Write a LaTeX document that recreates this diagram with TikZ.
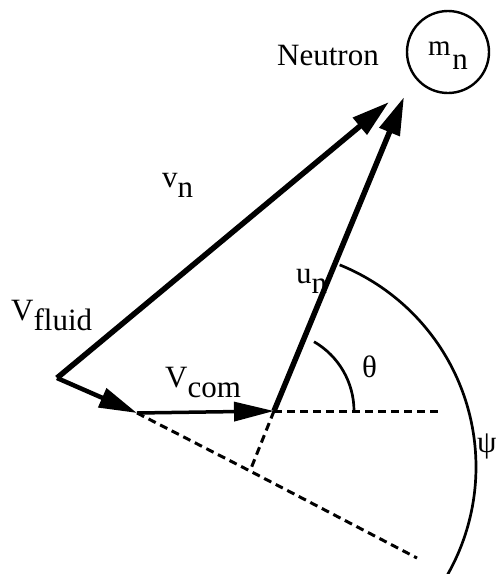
\documentclass[tikz,border=0pt]{standalone}
\usepackage{fontspec}
\setmainfont{Liberation Serif}
\usetikzlibrary{arrows.meta}
\begin{document}
\begin{tikzpicture}[x=1pt,y=-1pt,
  vecthick/.style={line width=5.5pt,-{Triangle[length=38pt,width=21pt]}},
  vecmid/.style={line width=4.5pt,-{Triangle[length=38pt,width=20pt]}},
  vecthin/.style={line width=3.5pt,-{Triangle[length=40pt,width=19pt]}},
  dashln/.style={line width=3pt,dash pattern=on 8pt off 5pt},
  arcln/.style={line width=2.7pt},
  lbl/.style={inner sep=0pt,anchor=base west,font=\fontsize{31}{36}\selectfont}]
\useasboundingbox (0,0) rectangle (498,574);
\clip (0,0) rectangle (498,574);
% points
\coordinate (O) at (57,378);
\coordinate (A) at (137,413);
\coordinate (C) at (274,411);
\coordinate (F) at (250,471);
\coordinate (B) at (417,558);
\coordinate (H) at (440,411);
\coordinate (Vn) at (389,102);
\coordinate (Un) at (404,97);
\coordinate (G) at (258,467);
% dashed construction lines
\draw[dashln] (C) -- (H);
\draw[dashln] (A) -- (F) -- (B);
\draw[dashln] (C) -- (F);
% vectors
\draw[vecmid] (O) -- (A);
\draw[vecthin] (A) -- (C);
\draw[vecthick] (O) -- (Vn);
\draw[vecthick] (C) -- (Un);
% angle arcs
\draw[arcln] (C) ++(-60:80) arc[start angle=-60,end angle=0,radius=80];
\draw[arcln] (G) ++(-68:218) arc[start angle=-68,end angle=34,radius=218];
% neutron
\node[draw,circle,line width=2.4pt,minimum size=82pt,inner sep=0pt] (mn) at (448,52) {};
\node[lbl] (mnlbl) at (428,55) {{\fontsize{29}{32}\selectfont m}\hspace{1.5pt}\lower14pt\hbox{n}};
\node[lbl] (neutron) at (277,65) {Neutron};
% labels
\node[lbl] (vnlbl) at (162,187) {v\lower10pt\hbox{n}};
\node[lbl] (vfluid) at (11,320) {V\lower10pt\hbox{fluid}};
\node[lbl] (vcom) at (165,387) {V\lower10pt\hbox{com}};
\node[lbl] (unlbl) at (296,283) {u\lower10pt\hbox{n}};
\node[lbl] (theta) at (362,377) {θ};
\node[lbl] (psi) at (477,452) {ψ};
\end{tikzpicture}
\end{document}
